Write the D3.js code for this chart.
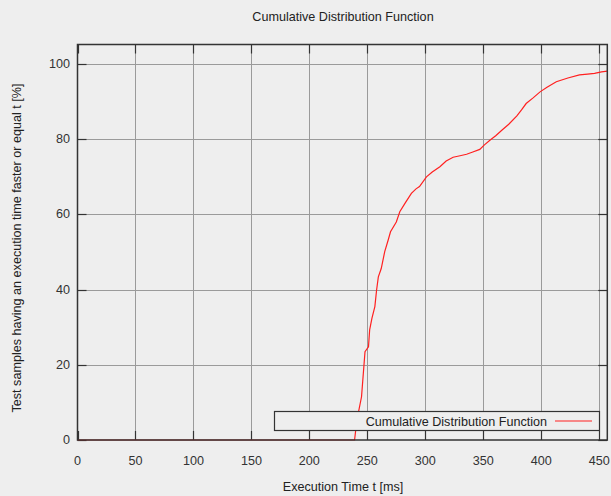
<!doctype html>
<html lang="en">
<head>
<meta charset="utf-8">
<script src="https://d3js.org/d3.v7.min.js"></script>
<style>
  body { margin: 0; background: #eeeeee; }
  svg { display: block; background: #eeeeee; font-family: "Liberation Sans", Arial, sans-serif; }
  .grid line { stroke: #9a9a9a; stroke-width: 1; }
  .tick-label { font-size: 12.6px; fill: #333; }
  .label { font-size: 12.6px; fill: #222; }
</style>
</head>
<body>
<svg width="611" height="496"></svg>
<script>
// execution time t [ms]
const times = [0, 239, 241, 245, 248, 251, 252, 254, 256.5, 258, 259.5, 262, 265, 268, 270, 275, 278,
  283, 288, 292, 295, 301, 306, 312.6, 318, 324, 330, 335.6, 341, 347, 351, 356, 361, 366, 372, 379,
  383, 387, 393, 399, 405, 413, 423, 433, 440, 446, 452, 457];
// percentage of samples faster or equal t
const percent = [0, 0, 5.3, 11.5, 23.5, 24.8, 29.3, 32.4, 35.5, 39.9, 43.4, 45.6, 50.1, 53.2, 55.4, 58.0, 60.7,
  63.2, 65.6, 66.8, 67.4, 70.0, 71.3, 72.7, 74.2, 75.2, 75.6, 76.0, 76.6, 77.3, 78.5, 79.8, 81.0, 82.4, 84.0, 86.2,
  87.8, 89.5, 91.0, 92.6, 93.8, 95.3, 96.3, 97.1, 97.3, 97.5, 97.9, 98.1];
const xTicks = [0, 50, 100, 150, 200, 250, 300, 350, 400, 450];
const yTicks = [0, 20, 40, 60, 80, 100];

const svg = d3.select("svg");
const mLeft = 77.5, mRight = 607.3, mTop = 44.5, mBottom = 440;

const x = d3.scaleLinear().domain([0, 457]).range([mLeft, mRight]);
const y = d3.scaleLinear().domain([0, 105.2]).range([mBottom, mTop]);

// grid
const grid = svg.append("g").attr("class", "grid");
grid.selectAll(".gx").data(xTicks.filter(d => d > 0)).enter().append("line")
  .attr("x1", d => Math.round(x(d)) + 0.5).attr("x2", d => Math.round(x(d)) + 0.5)
  .attr("y1", mTop).attr("y2", mBottom);
grid.selectAll(".gy").data(yTicks.filter(d => d > 0)).enter().append("line")
  .attr("y1", d => Math.round(y(d)) + 0.5).attr("y2", d => Math.round(y(d)) + 0.5)
  .attr("x1", mLeft).attr("x2", mRight);

// inward ticks on all four sides
const tk = 9;
const ticks = svg.append("g").attr("stroke", "#333").attr("stroke-width", 1.2);
xTicks.forEach(d => {
  const px = Math.round(x(d)) + 0.5;
  ticks.append("line").attr("x1", px).attr("x2", px).attr("y1", mBottom).attr("y2", mBottom - tk);
  ticks.append("line").attr("x1", px).attr("x2", px).attr("y1", mTop).attr("y2", mTop + tk);
});
yTicks.forEach(d => {
  const py = Math.round(y(d)) + 0.5;
  ticks.append("line").attr("y1", py).attr("y2", py).attr("x1", mLeft).attr("x2", mLeft + tk);
  ticks.append("line").attr("y1", py).attr("y2", py).attr("x1", mRight).attr("x2", mRight - tk);
});

// tick labels
svg.append("g").selectAll("text").data(xTicks).enter().append("text")
  .attr("class", "tick-label").attr("x", d => x(d)).attr("y", 465)
  .attr("text-anchor", "middle").text(d => d);
svg.append("g").selectAll("text").data(yTicks).enter().append("text")
  .attr("class", "tick-label").attr("x", 70).attr("y", d => y(d) + 4)
  .attr("text-anchor", "end").text(d => d);

// curve
const line = d3.line().x((d, i) => x(times[i])).y(d => y(d));
svg.append("path").datum(percent)
  .attr("fill", "none").attr("stroke", "#ff2020").attr("stroke-width", 1.2)
  .attr("d", line);

// frame
svg.append("rect").attr("x", mLeft).attr("y", mTop)
  .attr("width", mRight - mLeft).attr("height", mBottom - mTop)
  .attr("fill", "none").attr("stroke", "#333").attr("stroke-width", 1.5);

// legend
const lg = svg.append("g");
lg.append("rect").attr("x", 274.5).attr("y", 411.5).attr("width", 325).attr("height", 19)
  .attr("fill", "#eeeeee").attr("stroke", "#333").attr("stroke-width", 1.2);
lg.append("text").attr("class", "label").attr("x", 547).attr("y", 425.5)
  .attr("text-anchor", "end").text("Cumulative Distribution Function");
lg.append("line").attr("x1", 555).attr("x2", 592).attr("y1", 421).attr("y2", 421)
  .attr("stroke", "#ff2020").attr("stroke-width", 1.2);

// titles
svg.append("text").attr("class", "label").attr("x", 343).attr("y", 21)
  .attr("text-anchor", "middle").text("Cumulative Distribution Function");
svg.append("text").attr("class", "label").attr("x", 343).attr("y", 491)
  .attr("text-anchor", "middle").text("Execution Time t [ms]");
svg.append("text").attr("class", "label")
  .attr("transform", "translate(21,248) rotate(-90)")
  .attr("text-anchor", "middle").text("Test samples having an execution time faster or equal t [%]");
</script>
</body>
</html>
